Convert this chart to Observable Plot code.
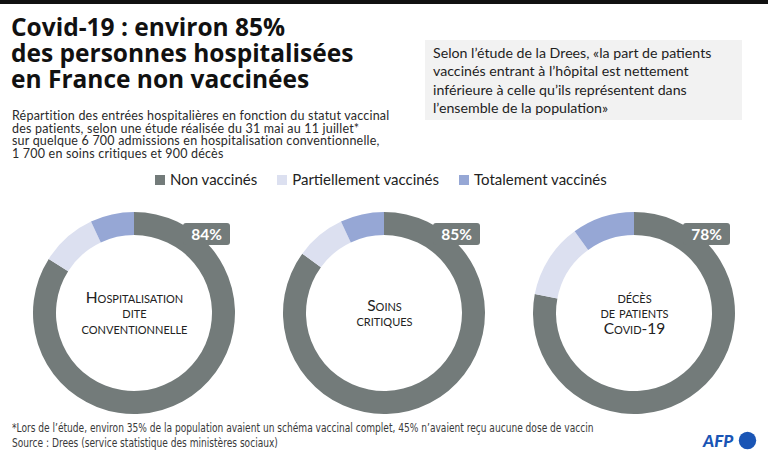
<!DOCTYPE html>
<html>
<head>
<meta charset="utf-8">
<script src="https://cdn.jsdelivr.net/npm/d3@7"></script>
<script src="https://cdn.jsdelivr.net/npm/@observablehq/plot@0.6"></script>
<style>
  html, body { margin: 0; padding: 0; background: #fff; }
  #page { position: relative; width: 768px; height: 457px; overflow: hidden; font-family: Lato, "Noto Sans", sans-serif; color: #1a1a1a; }
  #topbar { position: absolute; left: 0; top: 0; width: 768px; height: 4px; background: #111; }
  #title { position: absolute; left: 11px; top: 14px; font-family: "Open Sans", sans-serif; font-size: 24.5px; line-height: 25.8px; font-weight: 700; color: #111; white-space: nowrap; }
  #subtitle { position: absolute; left: 12px; top: 110px; font-size: 12.5px; line-height: 12.5px; letter-spacing: 0.2px; color: #2a2a2a; white-space: nowrap; }
  #quote { position: absolute; left: 425px; top: 40px; width: 317px; height: 80px; background: #f2f2f2; }
  #quote div { position: absolute; left: 8px; top: 4px; font-size: 14.2px; line-height: 18.4px; color: #1e1e1e; white-space: nowrap; }
  #legend { position: absolute; left: 155px; top: 170px; display: flex; font-size: 15px; color: #222; white-space: nowrap; }
  #legend .item { display: flex; align-items: center; margin-right: 20px; }
  #legend .sw { width: 10px; height: 10px; margin-right: 5px; margin-top: 1px; }
  #chart { position: absolute; left: 0; top: 195px; }
  #chart .center, #chart .center text { font-variant: small-caps; }
  #foot { position: absolute; left: 12px; top: 421px; font-family: "DejaVu Sans Condensed", "Liberation Sans Narrow", sans-serif; font-stretch: condensed; font-size: 12px; line-height: 15px; color: #3a3a3a; white-space: nowrap; transform: scaleX(0.84); transform-origin: 0 0; }
  #afp { position: absolute; left: 702px; top: 430px; width: 60px; height: 22px; }
</style>
</head>
<body>
<div id="page">
  <div id="topbar"></div>
  <div id="title">Covid-19 : environ 85%<br>des personnes hospitalisées<br>en France non vaccinées</div>
  <div id="subtitle">Répartition des entrées hospitalières en fonction du statut vaccinal<br>des patients, selon une étude réalisée du 31 mai au 11 juillet*<br>sur quelque 6 700 admissions en hospitalisation conventionnelle,<br>1 700 en soins critiques et 900 décès</div>
  <div id="quote"><div>Selon l’étude de la Drees, «la part de patients<br>vaccinés entrant à l’hôpital est nettement<br>inférieure à celle qu’ils représentent dans<br>l’ensemble de la population»</div></div>
  <div id="legend"></div>
  <div id="chart"></div>
  <div id="foot">*Lors de l’étude, environ 35% de la population avaient un schéma vaccinal complet, 45% n’avaient reçu aucune dose de vaccin<br>Source : Drees (service statistique des ministères sociaux)</div>
  <svg id="afp" viewBox="0 0 60 22">
    <text x="1" y="17" font-family="Lato, sans-serif" font-weight="900" font-style="italic" font-size="17" fill="#1a55b5">AFP</text>
    <circle cx="45.5" cy="10.5" r="8.7" fill="#1a55b5"/>
  </svg>
</div>
<script>
// ---- data ----
const categories = ["hospitalisation", "soins", "deces"];
const categoryLabels = ["Hospitalisation\ndite\nconventionnelle", "Soins\ncritiques", "décès\nde patients\nCovid-19"];
const statuses = ["Non vaccinés", "Partiellement vaccinés", "Totalement vaccinés"];
const nonVaccines = [84, 85, 78];
const partiellement = [9, 8, 12];
const totalement = [7, 7, 10];
const statusColors = ["#737b7a", "#dce0f0", "#96a7d5"];

// long table built from the arrays
const seriesByStatus = [nonVaccines, partiellement, totalement];
const slices = [];
categories.forEach((c, i) => statuses.forEach((s, j) => slices.push({category: c, status: s, value: seriesByStatus[j][i]})));

// legend
const legend = d3.select("#legend");
statuses.forEach((s, j) => {
  const it = legend.append("div").attr("class", "item");
  it.append("div").attr("class", "sw").style("background", statusColors[j]);
  it.append("span").text(s);
});

// donut rendering through Plot scales
const donuts = (index, scales, values, dims) => {
  const g = d3.create("svg:g");
  const cy = dims.marginTop + (dims.height - dims.marginTop - dims.marginBottom) / 2;
  const arc = d3.arc().innerRadius(78).outerRadius(101);
  categories.forEach((c) => {
    const cx = scales.x(c);
    const rows = slices.filter(d => d.category === c);
    const pie = d3.pie().sort(null).value(d => d.value)(rows);
    const gg = g.append("g").attr("transform", `translate(${cx},${cy})`);
    gg.selectAll("path").data(pie).join("path")
      .attr("d", arc)
      .attr("fill", d => scales.color(d.data.status));
    gg.append("rect")
      .attr("x", 49).attr("y", -90).attr("width", 47).attr("height", 22).attr("rx", 3)
      .attr("fill", scales.color(statuses[0]));
  });
  return g.node();
};

const plot = Plot.plot({
  width: 768,
  height: 225,
  marginTop: 11,
  marginBottom: 0,
  marginLeft: 0,
  marginRight: 0,
  x: {type: "point", domain: categories, range: [134, 634], padding: 0, axis: null},
  color: {domain: statuses, range: statusColors},
  style: {fontFamily: "Lato, 'Noto Sans', sans-serif", background: "transparent"},
  marks: [
    Plot.dot(slices, {x: "category", fill: "status", r: 0}),
    donuts,
    Plot.text(categories, {x: d => d, text: (d, i) => categoryLabels[i], fontSize: 15.5, lineHeight: 1, fill: "#222", className: "center"}),
    Plot.text(categories, {x: d => d, text: (d, i) => nonVaccines[i] + "%", dx: 72, dy: -78, fill: "white", fontWeight: "bold", fontSize: 15.5})
  ]
});
document.getElementById("chart").appendChild(plot);
</script>
</body>
</html>
